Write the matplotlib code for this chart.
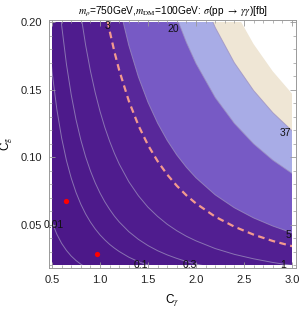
import matplotlib
matplotlib.use("Agg")
import matplotlib.pyplot as plt
from matplotlib.patches import Rectangle
from matplotlib.ticker import MultipleLocator, FormatStrFormatter

plt.rcParams['font.family'] = ['Liberation Sans', 'DejaVu Sans']
plt.rcParams['mathtext.fontset'] = 'stix'

c_gamma = [0.45, 0.5, 0.55, 0.6, 0.65, 0.7, 0.75, 0.8, 0.85, 0.9, 0.95, 1.0, 1.05,
           1.1, 1.15, 1.2, 1.3, 1.4, 1.5, 1.6, 1.7, 1.8, 1.9, 2.0, 2.2, 2.4, 2.6,
           2.8, 3.0, 3.05]

# C_g along each sigma contour [fb]
cg_001 = [0.0636, 0.0516, 0.0428, 0.0360, 0.0308, 0.0266, 0.0233, 0.0206, 0.0183,
          0.0164, 0.0148, 0.0134, 0.0122, 0.0112, 0.0103, 0.0095, 0.0082, 0.0071,
          0.0063, 0.0056, 0.0050, 0.0045, 0.0041, 0.0038, 0.0032, 0.0028, 0.0025,
          0.0022, 0.0020, 0.0019]
cg_01 = [0.2010, 0.1632, 0.1352, 0.1140, 0.0974, 0.0843, 0.0737, 0.0650, 0.0578,
         0.0518, 0.0467, 0.0423, 0.0386, 0.0353, 0.0325, 0.0300, 0.0258, 0.0225,
         0.0199, 0.0177, 0.0159, 0.0144, 0.0131, 0.0120, 0.0102, 0.0088, 0.0078,
         0.0069, 0.0062, 0.0061]
cg_03 = [0.3482, 0.2827, 0.2343, 0.1974, 0.1687, 0.1460, 0.1276, 0.1126, 0.1001,
         0.0897, 0.0808, 0.0733, 0.0668, 0.0612, 0.0562, 0.0519, 0.0447, 0.0390,
         0.0344, 0.0306, 0.0275, 0.0249, 0.0226, 0.0207, 0.0176, 0.0153, 0.0134,
         0.0120, 0.0108, 0.0105]
cg_1 = [0.6357, 0.5162, 0.4277, 0.3604, 0.3080, 0.2665, 0.2330, 0.2055, 0.1828,
        0.1637, 0.1476, 0.1338, 0.1219, 0.1117, 0.1027, 0.0948, 0.0817, 0.0713,
        0.0628, 0.0560, 0.0502, 0.0454, 0.0413, 0.0379, 0.0322, 0.0279, 0.0246,
        0.0219, 0.0197, 0.0192]
cg_3 = [1.1011, 0.8940, 0.7408, 0.6242, 0.5335, 0.4616, 0.4035, 0.3560, 0.3166,
        0.2836, 0.2556, 0.2318, 0.2112, 0.1934, 0.1779, 0.1642, 0.1415, 0.1234,
        0.1088, 0.0969, 0.0870, 0.0787, 0.0716, 0.0656, 0.0558, 0.0484, 0.0425,
        0.0378, 0.0340, 0.0332]
cg_5 = [1.4214, 1.1542, 0.9563, 0.8059, 0.6888, 0.5959, 0.5210, 0.4596, 0.4087,
        0.3661, 0.3300, 0.2992, 0.2727, 0.2497, 0.2296, 0.2120, 0.1827, 0.1593,
        0.1405, 0.1251, 0.1123, 0.1015, 0.0924, 0.0846, 0.0720, 0.0624, 0.0549,
        0.0489, 0.0439, 0.0429]
cg_20 = [2.8429, 2.3083, 1.9126, 1.6118, 1.3775, 1.1917, 1.0419, 0.9191, 0.8174,
         0.7322, 0.6600, 0.5984, 0.5453, 0.4994, 0.4592, 0.4240, 0.3653, 0.3187,
         0.2810, 0.2502, 0.2246, 0.2031, 0.1849, 0.1693, 0.1441, 0.1249, 0.1098,
         0.0977, 0.0879, 0.0857]
cg_37 = [3.8667, 3.1396, 2.6015, 2.1923, 1.8737, 1.6209, 1.4172, 1.2501, 1.1118,
         0.9959, 0.8978, 0.8139, 0.7417, 0.6792, 0.6246, 0.5767, 0.4969, 0.4335,
         0.3822, 0.3403, 0.3055, 0.2762, 0.2515, 0.2302, 0.1960, 0.1698, 0.1493,
         0.1329, 0.1195, 0.1166]
cg_56 = [4.7571, 3.8626, 3.2005, 2.6971, 2.3051, 1.9941, 1.7435, 1.5380, 1.3677,
         1.2252, 1.1045, 1.0013, 0.9125, 0.8356, 0.7685, 0.7095, 0.6113, 0.5333,
         0.4703, 0.4187, 0.3758, 0.3398, 0.3094, 0.2832, 0.2411, 0.2089, 0.1837,
         0.1635, 0.1470, 0.1435]

levels = [cg_001, cg_01, cg_03, cg_1, cg_3, cg_5, cg_20, cg_37, cg_56]
band_colors = ['#4b1788', '#4c1889', '#4d1a8b', '#4f1c8e', '#521f92', '#58289a',
               '#775ac5', '#a8ace6', '#efe6d5', '#ffffff']

# contour labels: text, C_gamma, C_g
label_text = ['0.01', '0.1', '0.3', '1', '3', '5', '20', '37']
label_cgam = [0.515, 1.43, 1.94, 2.91, 1.076, 2.96, 1.76, 2.93]
label_cg = [0.0496, 0.0200, 0.0200, 0.0200, 0.1970, 0.0422, 0.1950, 0.1176]

# benchmark points
pts_cgam = [0.646, 0.966]
pts_cg = [0.0676, 0.0279]

x_min, x_max = 0.5, 3.0
y_min, y_max = 0.02, 0.20

fig = plt.figure(figsize=(3.0, 3.11), dpi=100)
ax = fig.add_axes([0.1633, 0.1383, 0.8233, 0.7974])

box = Rectangle((x_min, y_min), x_max - x_min, y_max - y_min, transform=ax.transData)

ax.add_patch(Rectangle((x_min, y_min), x_max - x_min, y_max - y_min,
                       facecolor=band_colors[0], edgecolor='none', zorder=1))
for i, cg in enumerate(levels):
    f = ax.fill_between(c_gamma, cg, 10, color=band_colors[i + 1], lw=0, zorder=1)
    f.set_clip_path(box)

for cg in levels[:-1]:
    if cg is cg_3:
        continue
    ln, = ax.plot(c_gamma, cg, color='#9d90bf', lw=0.7, alpha=0.75, zorder=2)
    ln.set_clip_path(box)

dash, = ax.plot(c_gamma, cg_3, color='#f39a8e', lw=1.6, ls=(0, (3, 2)), zorder=3)
dash.set_clip_path(box)

for t, xx, yy in zip(label_text, label_cgam, label_cg):
    ax.text(xx, yy, t, ha='center', va='center', fontsize=7.5, color='#111111', zorder=4)

ax.plot(pts_cgam, pts_cg, 'o', color='#ff0000', ms=3.8, mec='none', zorder=5)

ax.set_xlim(0.468, 3.042)
ax.set_ylim(0.0178, 0.2015)
ax.xaxis.set_major_locator(MultipleLocator(0.5))
ax.xaxis.set_minor_locator(MultipleLocator(0.1))
ax.yaxis.set_major_locator(MultipleLocator(0.05))
ax.yaxis.set_minor_locator(MultipleLocator(0.01))
ax.xaxis.set_major_formatter(FormatStrFormatter('%.1f'))
ax.yaxis.set_major_formatter(FormatStrFormatter('%.2f'))
ax.tick_params(which='both', direction='in', top=True, right=True, color='#999999',
               labelsize=8, labelcolor='#222222')
ax.tick_params(which='major', length=4, width=0.6, pad=5)
ax.tick_params(which='minor', length=2, width=0.5)
for s in ax.spines.values():
    s.set_color('#999999')
    s.set_linewidth(0.7)

ax.set_xlabel(r'C$_\gamma$', fontsize=8.5, labelpad=6)
ax.set_ylabel(r'C$_{\rm g}$', fontsize=8.5, labelpad=4)
ax.set_title(r'$m_\rho$=750GeV,$m_{\rm DM}$=100GeV: $\sigma$(pp $\rightarrow$ $\gamma\gamma$)[fb]',
             fontsize=7.3, pad=4)

fig.savefig('out.png', dpi=100)
